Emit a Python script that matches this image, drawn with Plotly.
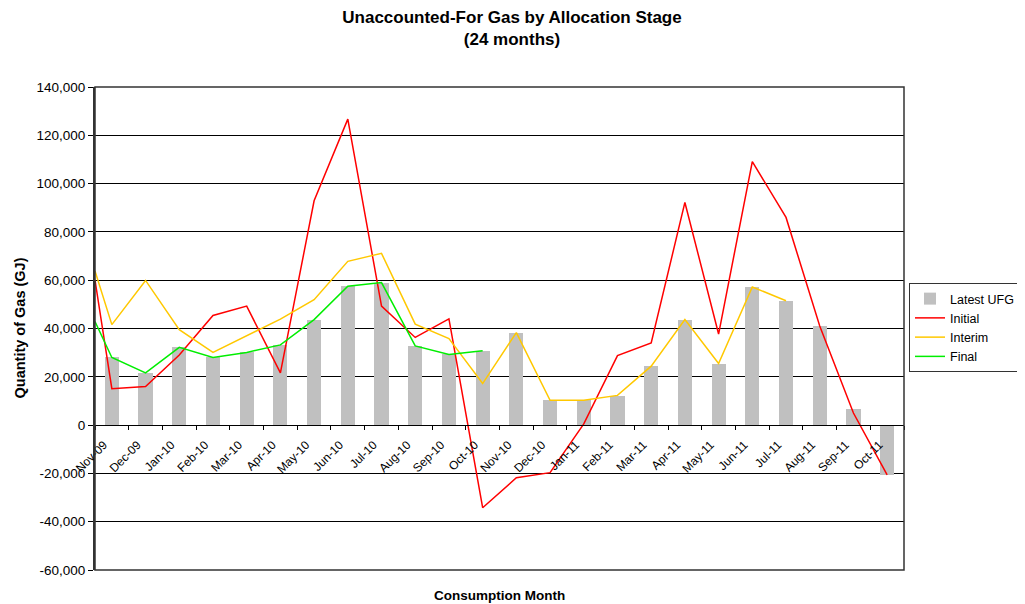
import plotly.graph_objects as go

# ---- data ----
months = ["Nov-09", "Dec-09", "Jan-10", "Feb-10", "Mar-10", "Apr-10", "May-10", "Jun-10",
          "Jul-10", "Aug-10", "Sep-10", "Oct-10", "Nov-10", "Dec-10", "Jan-11", "Feb-11",
          "Mar-11", "Apr-11", "May-11", "Jun-11", "Jul-11", "Aug-11", "Sep-11", "Oct-11"]

latest_ufg = [28000, 21700, 32500, 28000, 30100, 33300, 43700, 57700, 59000, 32900, 29600, 30800,
              38300, 10300, 10400, 12200, 24400, 43700, 25500, 57200, 51500, 41100, 6500, -20600]

# value where each line enters at the left edge of the plot area
initial_edge = 60000
interim_edge = 63800
final_edge = 42900

initial = [15100, 16000, 29000, 45400, 49300, 21600, 92900, 126700, 49300, 36300, 44000, -34200,
           -21800, -19700, 500, 28800, 34000, 92200, 37700, 109100, 86000, 41000, 5000, -20600]
interim = [41600, 59900, 39500, 30100, 37000, 43900, 51900, 67800, 71100, 41800, 35800, 17200,
           38300, 10300, 10300, 12300, 24400, 43700, 25500, 57200, 51500, None, None, None]
final = [28000, 21600, 32200, 28000, 30100, 33200, 43700, 57500, 59000, 32800, 29200, 30800,
         None, None, None, None, None, None, None, None, None, None, None, None]

y_ticks = [-60000, -40000, -20000, 0, 20000, 40000, 60000, 80000, 100000, 120000, 140000]

# ---- figure ----
idx = list(range(len(months)))
line_x = [-0.5] + idx
y_min, y_max = y_ticks[0], y_ticks[-1]

fig = go.Figure()
fig.add_trace(go.Bar(x=idx, y=latest_ufg, name="Latest UFG", width=0.42,
                     marker=dict(color="#C0C0C0", line=dict(width=0))))
fig.add_trace(go.Scatter(x=line_x, y=[initial_edge] + initial, name="Initial", mode="lines",
                         line=dict(color="#FF0000", width=1.5)))
fig.add_trace(go.Scatter(x=line_x, y=[interim_edge] + interim, name="Interim", mode="lines",
                         line=dict(color="#FFC800", width=1.5)))
fig.add_trace(go.Scatter(x=line_x, y=[final_edge] + final, name="Final", mode="lines",
                         line=dict(color="#00EE00", width=1.5)))

FONT = "Liberation Sans, Arial, Helvetica, sans-serif"
H = 596

fig.update_layout(
    width=1017, height=H,
    margin=dict(l=87, r=121, t=79, b=34, autoexpand=False),
    paper_bgcolor="white", plot_bgcolor="white",
    font=dict(family=FONT, color="black"),
    title=dict(text="<b>Unaccounted-For Gas by Allocation Stage<br>(24 months)</b>",
               font=dict(size=17, family=FONT, color="black"),
               x=(512 - 8) / 1017, xref="container", xanchor="center",
               y=1 - 15 / H, yref="container", yanchor="top"),
    bargap=0,
    showlegend=True,
    legend=dict(x=(909 - 95) / 809, xanchor="left", y=(570 - 283) / 483, yanchor="top",
                bordercolor="#333333", borderwidth=1, bgcolor="white",
                font=dict(size=12.5, family=FONT), traceorder="normal"),
    xaxis=dict(type="linear", range=[-0.5, len(months) - 0.5],
               tickmode="array", tickvals=idx, ticktext=months, tickangle=-45,
               tickfont=dict(size=12), ticks="", showgrid=False, zeroline=False,
               ticklabelstandoff=7, ticklabelshift=-8,
               showline=True, linecolor="black", linewidth=1,
               anchor="free", position=(0 - y_min) / (y_max - y_min),
               minor=dict(tickmode="array", tickvals=[i - 0.5 for i in range(len(months) + 1)],
                          ticks="outside", ticklen=4, tickcolor="black", tickwidth=1,
                          showgrid=False)),
    yaxis=dict(range=[y_min, y_max], tickmode="array", tickvals=y_ticks,
               ticktext=[f"{v:,}" for v in y_ticks],
               tickfont=dict(size=13.5), ticks="outside", ticklen=5, tickcolor="black",
               showgrid=True, gridcolor="black", gridwidth=1, zeroline=False,
               showline=True, linecolor="#333333", linewidth=2),
    shapes=[dict(type="rect", xref="x domain", yref="y domain", x0=0, x1=1, y0=0, y1=1,
                 line=dict(color="#333333", width=1.5), layer="above")],
    annotations=[
        dict(text="<b>Consumption Month</b>", xref="paper", yref="paper",
             x=0.5, y=(570 - 595) / 483, xanchor="center", yanchor="middle",
             showarrow=False, font=dict(size=13.5, family=FONT)),
        dict(text="<b>Quantity of Gas (GJ)</b>", xref="paper", yref="paper",
             x=(19 - 95) / 809, y=0.5, xanchor="center", yanchor="middle", textangle=-90,
             showarrow=False, font=dict(size=14.5, family=FONT)),
    ],
)

fig.write_html("out.html")
